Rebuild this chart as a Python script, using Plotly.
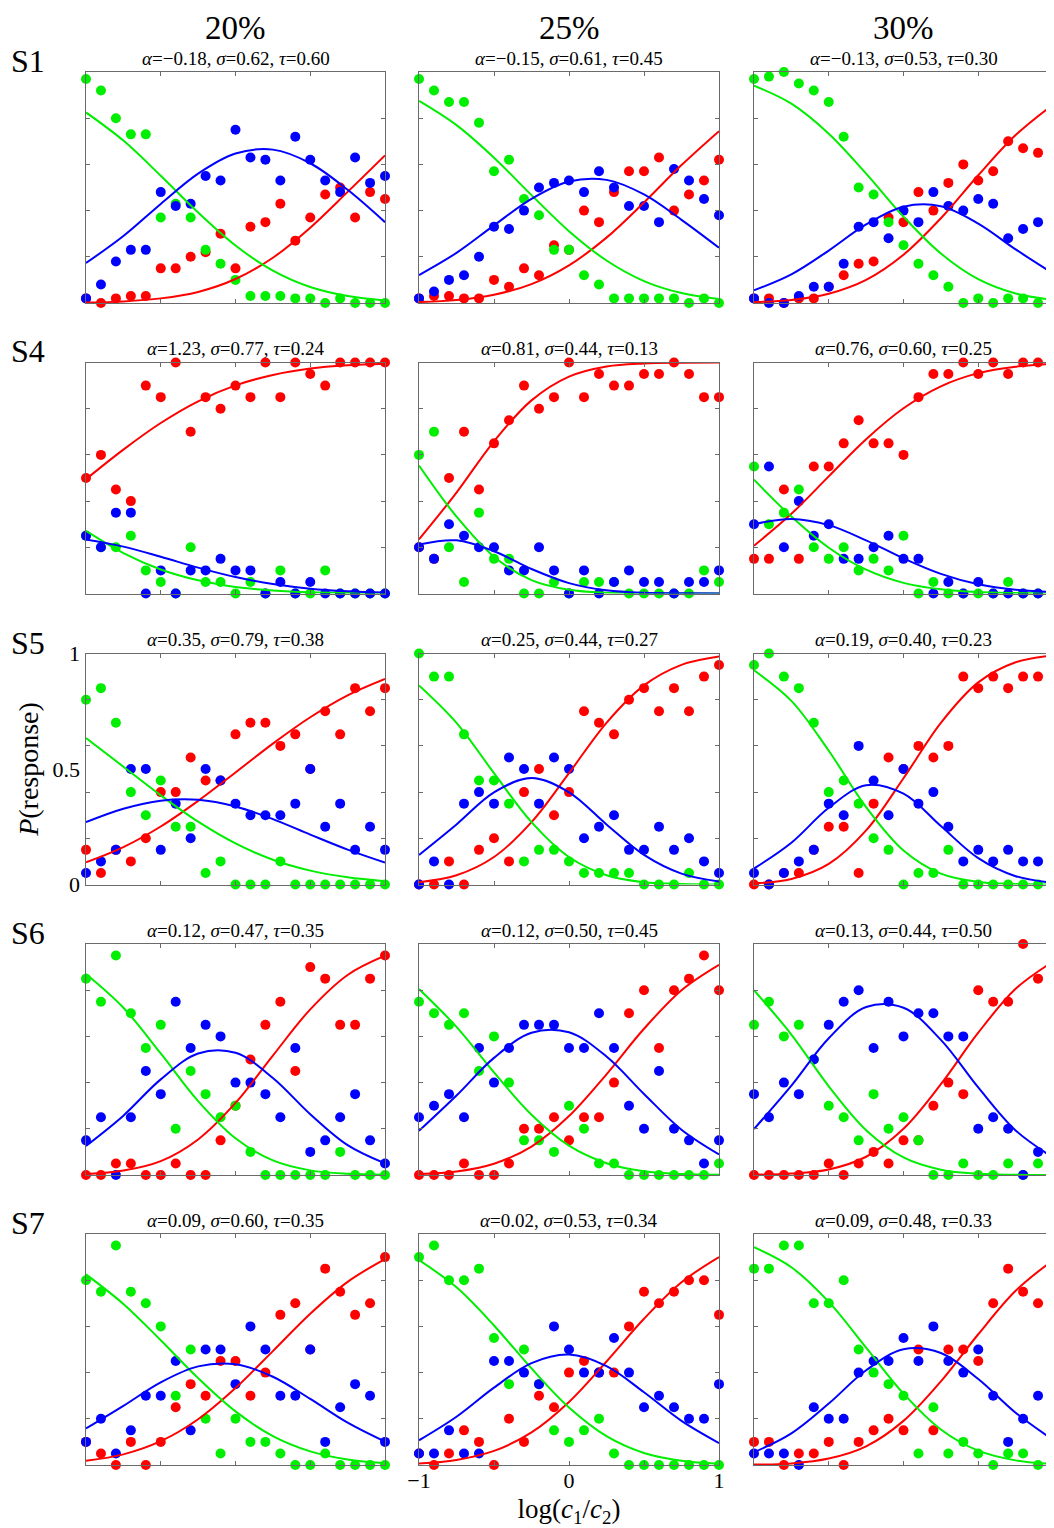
"""Probabilidades de respuesta por sujeto y contraste: puntos observados y ajuste del modelo."""

import plotly.graph_objects as go

# Eje x común: log(c1/c2)
X_DOTS = [-1.0, -0.9, -0.8, -0.7, -0.6, -0.5, -0.4, -0.3, -0.2, -0.1, 0.0,
          0.1, 0.2, 0.3, 0.4, 0.5, 0.6, 0.7, 0.8, 0.9, 1.0]
X_FIT = [-1.0, -0.75, -0.5, -0.25, 0.0, 0.25, 0.5, 0.75, 1.0]

SUBJECTS = ["S1", "S4", "S5", "S6", "S7"]
CONDITIONS = ["20%", "25%", "30%"]

ALPHA = [["−0.18", "−0.15", "−0.13"], ["1.23", "0.81", "0.76"], ["0.35", "0.25", "0.19"],
         ["0.12", "0.12", "0.13"], ["0.09", "0.02", "0.09"]]
SIGMA = [["0.62", "0.61", "0.53"], ["0.77", "0.44", "0.60"], ["0.79", "0.44", "0.40"],
         ["0.47", "0.50", "0.44"], ["0.60", "0.53", "0.48"]]
TAU = [["0.60", "0.45", "0.30"], ["0.24", "0.13", "0.25"], ["0.38", "0.27", "0.23"],
       ["0.35", "0.45", "0.50"], ["0.35", "0.34", "0.33"]]

# Proporciones observadas (una lista por condición 20/25/30 %)
S1_RED = [
    [0.02, 0.00, 0.02, 0.03, 0.03, 0.15, 0.15, 0.20, 0.22, 0.30, 0.15, 0.33, 0.35, 0.43, 0.27, 0.37, 0.47, 0.50, 0.37, 0.48, 0.45],
    [0.02, 0.03, 0.03, 0.02, 0.02, 0.10, 0.07, 0.15, 0.12, 0.25, 0.23, 0.40, 0.35, 0.48, 0.57, 0.57, 0.63, 0.40, 0.47, 0.53, 0.62],
    [0.02, 0.02, 0.00, 0.02, 0.02, 0.07, 0.12, 0.17, 0.18, 0.37, 0.35, 0.48, 0.40, 0.52, 0.60, 0.53, 0.57, 0.70, 0.67, 0.65, 0.67],
]
S1_GREEN = [
    [0.97, 0.92, 0.80, 0.73, 0.73, 0.37, 0.43, 0.37, 0.23, 0.17, 0.10, 0.03, 0.03, 0.03, 0.02, 0.02, 0.00, 0.02, 0.00, 0.00, 0.00],
    [0.97, 0.92, 0.87, 0.87, 0.78, 0.57, 0.62, 0.45, 0.38, 0.23, 0.23, 0.12, 0.08, 0.02, 0.02, 0.02, 0.02, 0.02, 0.00, 0.02, 0.00],
    [0.97, 0.98, 1.00, 0.95, 0.92, 0.87, 0.72, 0.50, 0.47, 0.35, 0.25, 0.17, 0.12, 0.07, 0.00, 0.02, 0.00, 0.02, 0.02, 0.00, 0.02],
]
S1_BLUE = [
    [0.02, 0.08, 0.18, 0.23, 0.23, 0.48, 0.42, 0.43, 0.55, 0.53, 0.75, 0.63, 0.62, 0.53, 0.72, 0.62, 0.53, 0.48, 0.63, 0.52, 0.55],
    [0.02, 0.05, 0.10, 0.12, 0.20, 0.33, 0.32, 0.40, 0.50, 0.52, 0.53, 0.48, 0.57, 0.50, 0.42, 0.42, 0.35, 0.58, 0.53, 0.45, 0.38],
    [0.02, 0.00, 0.00, 0.03, 0.07, 0.07, 0.17, 0.33, 0.35, 0.28, 0.40, 0.35, 0.48, 0.42, 0.40, 0.45, 0.43, 0.28, 0.32, 0.35, 0.33],
]
S4_RED = [
    [0.50, 0.60, 0.45, 0.40, 0.90, 0.85, 1.00, 0.70, 0.85, 0.80, 0.90, 0.85, 1.00, 0.85, 1.00, 0.95, 0.90, 1.00, 1.00, 1.00, 1.00],
    [0.20, 0.15, 0.50, 0.70, 0.45, 0.65, 0.75, 0.90, 0.80, 0.85, 1.00, 0.85, 0.95, 0.90, 0.90, 0.95, 0.95, 1.00, 0.95, 0.85, 0.85],
    [0.15, 0.15, 0.45, 0.15, 0.55, 0.55, 0.65, 0.75, 0.65, 0.65, 0.60, 0.85, 0.95, 0.95, 1.00, 0.95, 1.00, 0.95, 1.00, 1.00, 0.90],
]
S4_GREEN = [
    [0.25, 0.20, 0.20, 0.25, 0.10, 0.05, 0.00, 0.20, 0.05, 0.05, 0.00, 0.05, 0.00, 0.10, 0.00, 0.00, 0.10, 0.00, 0.00, 0.00, 0.00],
    [0.60, 0.70, 0.20, 0.05, 0.35, 0.15, 0.15, 0.00, 0.00, 0.05, 0.00, 0.05, 0.05, 0.05, 0.00, 0.00, 0.00, 0.00, 0.00, 0.10, 0.05],
    [0.55, 0.30, 0.35, 0.45, 0.20, 0.15, 0.20, 0.10, 0.15, 0.10, 0.25, 0.00, 0.05, 0.00, 0.00, 0.00, 0.00, 0.05, 0.00, 0.00, 0.00],
]
S4_BLUE = [
    [0.25, 0.20, 0.35, 0.35, 0.00, 0.10, 0.00, 0.10, 0.10, 0.15, 0.10, 0.10, 0.00, 0.05, 0.00, 0.05, 0.00, 0.00, 0.00, 0.00, 0.00],
    [0.20, 0.15, 0.30, 0.25, 0.20, 0.20, 0.10, 0.10, 0.20, 0.10, 0.00, 0.10, 0.00, 0.05, 0.10, 0.05, 0.05, 0.00, 0.05, 0.05, 0.10],
    [0.30, 0.55, 0.20, 0.40, 0.25, 0.30, 0.15, 0.15, 0.20, 0.25, 0.15, 0.15, 0.00, 0.05, 0.00, 0.05, 0.00, 0.00, 0.00, 0.00, 0.10],
]
S5_RED = [
    [0.15, 0.05, 0.15, 0.10, 0.20, 0.40, 0.40, 0.55, 0.45, 0.45, 0.65, 0.70, 0.70, 0.60, 0.65, 0.50, 0.75, 0.65, 0.85, 0.75, 0.85],
    [0.00, 0.00, 0.10, 0.00, 0.15, 0.20, 0.10, 0.40, 0.50, 0.30, 0.40, 0.75, 0.70, 0.65, 0.80, 0.85, 0.75, 0.85, 0.75, 0.90, 0.95],
    [0.00, 0.00, 0.05, 0.05, 0.15, 0.25, 0.25, 0.05, 0.35, 0.55, 0.50, 0.60, 0.55, 0.60, 0.90, 0.85, 0.90, 0.85, 0.90, 0.90, 0.90],
]
S5_GREEN = [
    [0.80, 0.85, 0.70, 0.40, 0.30, 0.45, 0.25, 0.25, 0.05, 0.10, 0.00, 0.00, 0.00, 0.10, 0.00, 0.00, 0.00, 0.00, 0.00, 0.00, 0.00],
    [1.00, 0.90, 0.90, 0.65, 0.45, 0.45, 0.35, 0.10, 0.15, 0.15, 0.10, 0.05, 0.05, 0.05, 0.05, 0.00, 0.00, 0.00, 0.05, 0.00, 0.00],
    [0.95, 1.00, 0.90, 0.85, 0.70, 0.40, 0.45, 0.35, 0.20, 0.15, 0.00, 0.05, 0.05, 0.15, 0.00, 0.00, 0.00, 0.00, 0.00, 0.00, 0.00],
]
S5_BLUE = [
    [0.05, 0.10, 0.15, 0.50, 0.50, 0.15, 0.35, 0.20, 0.50, 0.45, 0.35, 0.30, 0.30, 0.30, 0.35, 0.50, 0.25, 0.35, 0.15, 0.25, 0.15],
    [0.00, 0.10, 0.00, 0.35, 0.40, 0.35, 0.55, 0.50, 0.35, 0.55, 0.50, 0.20, 0.25, 0.30, 0.15, 0.15, 0.25, 0.15, 0.20, 0.10, 0.05],
    [0.05, 0.00, 0.05, 0.10, 0.15, 0.35, 0.30, 0.60, 0.45, 0.30, 0.50, 0.35, 0.40, 0.25, 0.10, 0.15, 0.10, 0.15, 0.10, 0.10, 0.10],
]
S6_RED = [
    [0.00, 0.00, 0.05, 0.05, 0.00, 0.00, 0.05, 0.00, 0.00, 0.15, 0.30, 0.50, 0.65, 0.75, 0.45, 0.90, 0.85, 0.65, 0.65, 0.85, 0.95],
    [0.00, 0.00, 0.00, 0.05, 0.00, 0.00, 0.05, 0.20, 0.20, 0.25, 0.15, 0.25, 0.25, 0.40, 0.70, 0.80, 0.55, 0.80, 0.85, 0.95, 0.80],
    [0.00, 0.00, 0.00, 0.00, 0.00, 0.05, 0.00, 0.05, 0.10, 0.05, 0.15, 0.15, 0.30, 0.40, 0.35, 0.80, 0.75, 0.75, 1.00, 0.85, 0.90],
]
S6_GREEN = [
    [0.85, 0.75, 0.95, 0.70, 0.55, 0.65, 0.20, 0.45, 0.35, 0.25, 0.30, 0.10, 0.00, 0.00, 0.00, 0.00, 0.00, 0.10, 0.00, 0.00, 0.00],
    [0.75, 0.70, 0.65, 0.70, 0.45, 0.60, 0.40, 0.15, 0.15, 0.10, 0.30, 0.20, 0.05, 0.05, 0.00, 0.00, 0.00, 0.00, 0.00, 0.00, 0.05],
    [0.65, 0.75, 0.60, 0.65, 0.50, 0.30, 0.25, 0.15, 0.35, 0.20, 0.25, 0.15, 0.00, 0.00, 0.05, 0.00, 0.00, 0.05, 0.00, 0.05, 0.00],
]
S6_BLUE = [
    [0.15, 0.25, 0.00, 0.25, 0.45, 0.35, 0.75, 0.55, 0.65, 0.60, 0.40, 0.40, 0.35, 0.25, 0.55, 0.10, 0.15, 0.25, 0.35, 0.15, 0.05],
    [0.25, 0.30, 0.35, 0.25, 0.55, 0.40, 0.55, 0.65, 0.65, 0.65, 0.55, 0.55, 0.70, 0.55, 0.30, 0.20, 0.45, 0.20, 0.15, 0.05, 0.15],
    [0.35, 0.25, 0.40, 0.35, 0.50, 0.65, 0.75, 0.80, 0.55, 0.75, 0.60, 0.70, 0.70, 0.60, 0.60, 0.20, 0.25, 0.20, 0.00, 0.10, 0.10],
]
S7_RED = [
    [0.10, 0.05, 0.00, 0.10, 0.00, 0.10, 0.25, 0.35, 0.30, 0.45, 0.45, 0.30, 0.40, 0.65, 0.70, 0.50, 0.85, 0.75, 0.65, 0.70, 0.90],
    [0.05, 0.00, 0.05, 0.15, 0.10, 0.00, 0.20, 0.10, 0.30, 0.25, 0.40, 0.45, 0.40, 0.40, 0.60, 0.75, 0.70, 0.75, 0.80, 0.80, 0.65],
    [0.10, 0.10, 0.00, 0.05, 0.05, 0.10, 0.00, 0.10, 0.15, 0.20, 0.15, 0.50, 0.15, 0.50, 0.50, 0.45, 0.70, 0.85, 0.75, 0.70, 0.80],
]
S7_GREEN = [
    [0.80, 0.75, 0.95, 0.75, 0.70, 0.60, 0.30, 0.50, 0.20, 0.05, 0.20, 0.10, 0.10, 0.05, 0.00, 0.00, 0.05, 0.00, 0.00, 0.00, 0.00],
    [0.90, 0.95, 0.80, 0.80, 0.85, 0.55, 0.35, 0.50, 0.35, 0.15, 0.10, 0.15, 0.20, 0.05, 0.00, 0.00, 0.00, 0.00, 0.00, 0.00, 0.00],
    [0.85, 0.85, 0.95, 0.95, 0.70, 0.70, 0.80, 0.50, 0.40, 0.35, 0.30, 0.05, 0.25, 0.05, 0.10, 0.05, 0.00, 0.05, 0.05, 0.00, 0.00],
]
S7_BLUE = [
    [0.10, 0.20, 0.05, 0.15, 0.30, 0.30, 0.45, 0.15, 0.50, 0.50, 0.35, 0.60, 0.50, 0.30, 0.30, 0.50, 0.10, 0.25, 0.35, 0.30, 0.10],
    [0.05, 0.05, 0.15, 0.05, 0.05, 0.45, 0.45, 0.40, 0.35, 0.60, 0.50, 0.40, 0.40, 0.55, 0.40, 0.25, 0.30, 0.25, 0.20, 0.20, 0.35],
    [0.05, 0.05, 0.05, 0.00, 0.25, 0.20, 0.20, 0.40, 0.45, 0.45, 0.55, 0.45, 0.60, 0.45, 0.40, 0.50, 0.30, 0.10, 0.20, 0.30, 0.20],
]

# Curvas ajustadas, muestreadas en X_FIT
S1_FIT_RED = [[0.002, 0.007, 0.020, 0.048, 0.104, 0.196, 0.326, 0.481, 0.639],
              [0.004, 0.013, 0.036, 0.082, 0.163, 0.283, 0.435, 0.597, 0.744],
              [0.004, 0.013, 0.040, 0.100, 0.209, 0.367, 0.553, 0.727, 0.859]]
S1_FIT_GREEN = [[0.825, 0.703, 0.551, 0.392, 0.249, 0.140, 0.069, 0.030, 0.011],
                [0.875, 0.770, 0.629, 0.467, 0.311, 0.184, 0.095, 0.043, 0.017],
                [0.941, 0.863, 0.733, 0.560, 0.374, 0.214, 0.103, 0.041, 0.014]]
S1_FIT_BLUE = [[0.173, 0.290, 0.429, 0.560, 0.647, 0.664, 0.605, 0.490, 0.350],
               [0.121, 0.217, 0.336, 0.451, 0.526, 0.533, 0.470, 0.360, 0.239],
               [0.055, 0.124, 0.227, 0.340, 0.417, 0.419, 0.344, 0.232, 0.128]]
S4_FIT_RED = [[0.495, 0.623, 0.738, 0.832, 0.901, 0.946, 0.974, 0.988, 0.995],
              [0.234, 0.437, 0.659, 0.836, 0.939, 0.983, 0.996, 0.999, 1.000],
              [0.207, 0.345, 0.507, 0.668, 0.802, 0.897, 0.954, 0.982, 0.994]]
S4_FIT_GREEN = [[0.271, 0.175, 0.104, 0.057, 0.028, 0.013, 0.005, 0.002, 0.001],
                [0.554, 0.333, 0.159, 0.058, 0.016, 0.003, 0.001, 0.000, 0.000],
                [0.493, 0.333, 0.198, 0.103, 0.046, 0.018, 0.006, 0.002, 0.000]]
S4_FIT_BLUE = [[0.234, 0.203, 0.159, 0.112, 0.071, 0.041, 0.021, 0.010, 0.004],
               [0.212, 0.230, 0.183, 0.106, 0.045, 0.014, 0.003, 0.001, 0.000],
               [0.300, 0.323, 0.296, 0.230, 0.152, 0.085, 0.040, 0.016, 0.006]]
S5_FIT_RED = [[0.096, 0.162, 0.251, 0.362, 0.485, 0.610, 0.724, 0.819, 0.890],
              [0.010, 0.040, 0.119, 0.270, 0.482, 0.700, 0.862, 0.951, 0.987],
              [0.005, 0.024, 0.089, 0.234, 0.460, 0.700, 0.875, 0.962, 0.992]]
S5_FIT_GREEN = [[0.634, 0.510, 0.386, 0.272, 0.178, 0.107, 0.060, 0.031, 0.014],
                [0.862, 0.700, 0.482, 0.270, 0.119, 0.040, 0.010, 0.002, 0.000],
                [0.927, 0.795, 0.579, 0.335, 0.147, 0.047, 0.011, 0.002, 0.000]]
S5_FIT_BLUE = [[0.270, 0.328, 0.363, 0.367, 0.338, 0.283, 0.216, 0.151, 0.095],
               [0.128, 0.260, 0.399, 0.461, 0.399, 0.260, 0.128, 0.047, 0.013],
               [0.069, 0.181, 0.332, 0.430, 0.393, 0.253, 0.114, 0.036, 0.008]]
S6_FIT_RED = [[0.004, 0.019, 0.060, 0.154, 0.312, 0.517, 0.717, 0.866, 0.949],
              [0.004, 0.015, 0.049, 0.123, 0.255, 0.436, 0.633, 0.800, 0.910],
              [0.001, 0.006, 0.024, 0.079, 0.200, 0.393, 0.616, 0.806, 0.924]]
S6_FIT_GREEN = [[0.870, 0.724, 0.526, 0.320, 0.159, 0.063, 0.020, 0.005, 0.001],
                [0.805, 0.641, 0.444, 0.261, 0.127, 0.051, 0.016, 0.004, 0.001],
                [0.800, 0.608, 0.384, 0.194, 0.076, 0.023, 0.005, 0.001, 0.000]]
S6_FIT_BLUE = [[0.126, 0.257, 0.414, 0.526, 0.529, 0.420, 0.263, 0.129, 0.050],
               [0.191, 0.344, 0.507, 0.616, 0.618, 0.513, 0.351, 0.196, 0.089],
               [0.199, 0.387, 0.592, 0.727, 0.724, 0.585, 0.379, 0.193, 0.076]]
S7_FIT_RED = [[0.018, 0.046, 0.103, 0.198, 0.333, 0.493, 0.655, 0.793, 0.891],
              [0.006, 0.022, 0.061, 0.141, 0.273, 0.448, 0.633, 0.791, 0.900],
              [0.002, 0.007, 0.028, 0.081, 0.191, 0.362, 0.566, 0.754, 0.887]]
S7_FIT_GREEN = [[0.825, 0.697, 0.540, 0.376, 0.232, 0.125, 0.059, 0.024, 0.008],
                [0.887, 0.769, 0.604, 0.418, 0.249, 0.125, 0.052, 0.018, 0.005],
                [0.943, 0.856, 0.706, 0.508, 0.309, 0.154, 0.062, 0.020, 0.005]]
S7_FIT_BLUE = [[0.158, 0.256, 0.358, 0.427, 0.436, 0.382, 0.286, 0.183, 0.101],
               [0.107, 0.209, 0.335, 0.441, 0.478, 0.428, 0.315, 0.191, 0.095],
               [0.055, 0.137, 0.266, 0.410, 0.501, 0.485, 0.372, 0.226, 0.109]]

DOTS = {
    "S1": (S1_RED, S1_GREEN, S1_BLUE),
    "S4": (S4_RED, S4_GREEN, S4_BLUE),
    "S5": (S5_RED, S5_GREEN, S5_BLUE),
    "S6": (S6_RED, S6_GREEN, S6_BLUE),
    "S7": (S7_RED, S7_GREEN, S7_BLUE),
}
FITS = {
    "S1": (S1_FIT_RED, S1_FIT_GREEN, S1_FIT_BLUE),
    "S4": (S4_FIT_RED, S4_FIT_GREEN, S4_FIT_BLUE),
    "S5": (S5_FIT_RED, S5_FIT_GREEN, S5_FIT_BLUE),
    "S6": (S6_FIT_RED, S6_FIT_GREEN, S6_FIT_BLUE),
    "S7": (S7_FIT_RED, S7_FIT_GREEN, S7_FIT_BLUE),
}

# Geometría en px de la figura (la página añade 8 px de margen al body)
W, H = 1046, 1520
COL_X = [(78, 377), (411, 711), (746, 1045)]
ROW_TOP = [64, 354.5, 645.5, 936, 1226]
PANEL_H = 231

COLORS = ["#ff0000", "#00ee00", "#0000ff"]
AX_COLOR = "#6a6a6a"
FONT = "Liberation Serif"

frame = dict(
    showline=True, linecolor=AX_COLOR, linewidth=1, mirror="ticks",
    ticks="inside", ticklen=4, tickwidth=1, tickcolor=AX_COLOR,
    showgrid=False, zeroline=False, fixedrange=True, automargin=False,
)

fig = go.Figure()
layout_axes = {}
annotations = []

for i, subj in enumerate(SUBJECTS):
    dots = DOTS[subj]
    fits = FITS[subj]
    top = ROW_TOP[i]
    for j in range(3):
        n = i * 3 + j + 1
        sfx = "" if n == 1 else str(n)
        xa, ya = "x" + sfx, "y" + sfx

        for vals, col in zip(dots, COLORS):
            fig.add_trace(go.Scatter(
                x=X_DOTS, y=vals[j], mode="markers",
                marker=dict(size=10, color=col),
                xaxis=xa, yaxis=ya, cliponaxis=False, showlegend=False,
            ))
        for vals, col in zip(fits, COLORS):
            fig.add_trace(go.Scatter(
                x=X_FIT, y=vals[j], mode="lines",
                line=dict(color=col, width=2, shape="spline"),
                xaxis=xa, yaxis=ya, showlegend=False,
            ))

        x0, x1 = COL_X[j]
        layout_axes["xaxis" + sfx] = dict(
            domain=[x0 / W, x1 / W], anchor=ya, range=[-1, 1],
            tickvals=[-1, -0.5, 0, 0.5, 1], showticklabels=False, **frame,
        )
        layout_axes["yaxis" + sfx] = dict(
            domain=[1 - (top + PANEL_H) / H, 1 - top / H], anchor=xa, range=[0, 1],
            tickvals=[0, 0.2, 0.4, 0.6, 0.8, 1], showticklabels=False, **frame,
        )

        # título del panel con los parámetros
        annotations.append(dict(
            x=(x0 + x1) / 2 / W, y=1 - (top - 14) / H, xref="paper", yref="paper",
            text=f"<i>α</i>={ALPHA[i][j]}, <i>σ</i>={SIGMA[i][j]}, <i>τ</i>={TAU[i][j]}",
            showarrow=False, xanchor="center", yanchor="middle",
            font=dict(family=FONT, size=19, color="black"),
        ))

    annotations.append(dict(
        x=20 / W, y=1 - (top - 11) / H, xref="paper", yref="paper", text=subj,
        showarrow=False, xanchor="center", yanchor="middle",
        font=dict(family=FONT, size=32, color="black"),
    ))

for j, cond in enumerate(CONDITIONS):
    x0, x1 = COL_X[j]
    annotations.append(dict(
        x=(x0 + x1) / 2 / W, y=1, xref="paper", yref="paper", text=cond,
        showarrow=False, xanchor="center", yanchor="top",
        font=dict(family=FONT, size=33, color="black"),
    ))

tick_font = dict(family=FONT, size=22, color="black")

# etiquetas del eje x solo en el panel inferior central
layout_axes["xaxis14"].update(
    showticklabels=True, ticktext=["−1", "", "0", "", "1"], tickfont=tick_font,
    ticklabelstandoff=-4,
    title=dict(text="log(<i>c</i><sub>1</sub>/<i>c</i><sub>2</sub>)",
               font=dict(family=FONT, size=27, color="black"), standoff=13),
)

# eje y superpuesto para las etiquetas 0 / 0.5 / 1 del panel S5-20%
layout_axes["yaxis16"] = dict(
    overlaying="y7", anchor="x7", side="left", range=[0, 1],
    tickvals=[0, 0.5, 1], ticktext=["0", "0.5", "1"], tickfont=tick_font,
    ticks="", ticklabelstandoff=5, showline=False, showgrid=False, zeroline=False,
    fixedrange=True, automargin=False,
    title=dict(text="<i>P</i>(response)", font=dict(family=FONT, size=28, color="black"),
               standoff=5),
)
fig.add_trace(go.Scatter(x=[], y=[], xaxis="x7", yaxis="y16", showlegend=False,
                         hoverinfo="skip"))

fig.update_layout(
    width=W, height=H,
    margin=dict(l=0, r=0, t=0, b=0, autoexpand=False),
    paper_bgcolor="white", plot_bgcolor="white",
    showlegend=False,
    font=dict(family=FONT, color="black"),
    annotations=annotations,
    **layout_axes,
)

fig.write_html("out.html")
